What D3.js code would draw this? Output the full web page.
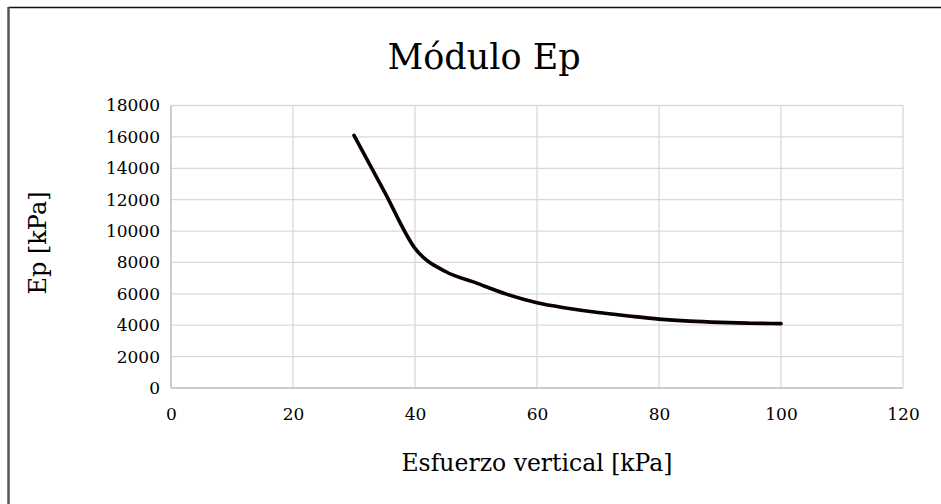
<!DOCTYPE html>
<html>
<head>
<meta charset="utf-8">
<script src="https://cdn.jsdelivr.net/npm/d3@7"></script>
<style>
  html, body { margin: 0; padding: 0; background: #fff; }
  svg { display: block; }
</style>
</head>
<body>
<svg id="chart" width="941" height="504"></svg>
<script>
const esfuerzo = [30, 35, 40, 45, 50, 55, 60, 65, 70, 75, 80, 85, 90, 95, 100];
const ep = [16100, 12500, 8900, 7420, 6700, 5980, 5430, 5085, 4810, 4590, 4390, 4260, 4180, 4130, 4100];
const xTicks = [0, 20, 40, 60, 80, 100, 120];
const yTicks = [0, 2000, 4000, 6000, 8000, 10000, 12000, 14000, 16000, 18000];
const titleText = "Módulo Ep";
const xTitle = "Esfuerzo vertical [kPa]";
const yTitle = "Ep [kPa]";

const FONT = "'DejaVu Serif', 'Liberation Serif', serif";
const svg = d3.select("#chart");
const W = 941, H = 504;
const plot = { left: 171, right: 903, top: 105.5, bottom: 388 };

// outer frame (top and left edges visible)
svg.append("line").attr("x1", 8).attr("x2", W).attr("y1", 7.5).attr("y2", 7.5)
  .attr("stroke", "#111").attr("stroke-width", 1.5);
svg.append("line").attr("x1", 8.5).attr("x2", 8.5).attr("y1", 7).attr("y2", H)
  .attr("stroke", "#555").attr("stroke-width", 2.5);

const x = d3.scaleLinear().domain([0, 120]).range([plot.left, plot.right]);
const y = d3.scaleLinear().domain([0, 18000]).range([plot.bottom, plot.top]);

// gridlines
const grid = svg.append("g");
grid.selectAll("line.h").data(yTicks).join("line").attr("class", "h")
  .attr("x1", plot.left).attr("x2", plot.right)
  .attr("y1", d => y(d)).attr("y2", d => y(d))
  .attr("stroke", "#d9d9d9").attr("stroke-width", 1.3);
grid.selectAll("line.v").data(xTicks).join("line").attr("class", "v")
  .attr("y1", plot.top).attr("y2", plot.bottom)
  .attr("x1", d => x(d)).attr("x2", d => x(d))
  .attr("stroke", "#d9d9d9").attr("stroke-width", 1.3);

// axis lines
svg.append("line").attr("x1", plot.left).attr("x2", plot.left).attr("y1", plot.top).attr("y2", plot.bottom)
  .attr("stroke", "#c4c4c4").attr("stroke-width", 1.5);
svg.append("line").attr("x1", plot.left).attr("x2", plot.right).attr("y1", plot.bottom).attr("y2", plot.bottom)
  .attr("stroke", "#c4c4c4").attr("stroke-width", 1.5);

// tick labels via d3 axes (no domain/tick lines)
const yAxis = svg.append("g").attr("transform", `translate(${plot.left},0)`)
  .call(d3.axisLeft(y).tickValues(yTicks).tickSize(0).tickPadding(11).tickFormat(d3.format("d")));
yAxis.select(".domain").remove();
yAxis.attr("font-family", FONT).attr("font-size", 17);
yAxis.selectAll("text").attr("fill", "#000");

const xAxis = svg.append("g").attr("transform", `translate(0,${plot.bottom})`)
  .call(d3.axisBottom(x).tickValues(xTicks).tickSize(0).tickPadding(20).tickFormat(d3.format("d")));
xAxis.select(".domain").remove();
xAxis.attr("font-family", FONT).attr("font-size", 17);
xAxis.selectAll("text").attr("fill", "#000");

// series line
const pts = esfuerzo.map((v, i) => [v, ep[i]]);
svg.append("path").datum(pts)
  .attr("fill", "none").attr("stroke", "#0a0000").attr("stroke-width", 3.6)
  .attr("stroke-linecap", "round").attr("stroke-linejoin", "round")
  .attr("d", d3.line().x(d => x(d[0])).y(d => y(d[1])).curve(d3.curveMonotoneX));

// titles
svg.append("text").attr("x", 484).attr("y", 69).attr("text-anchor", "middle")
  .attr("font-family", FONT).attr("font-size", 35).attr("fill", "#000").text(titleText);
svg.append("text").attr("x", 537).attr("y", 471).attr("text-anchor", "middle")
  .attr("font-family", FONT).attr("font-size", 23.5).attr("fill", "#000").text(xTitle);
svg.append("text").attr("transform", "translate(46,243) rotate(-90)").attr("text-anchor", "middle")
  .attr("font-family", FONT).attr("font-size", 24).attr("fill", "#000").text(yTitle);
</script>
</body>
</html>
